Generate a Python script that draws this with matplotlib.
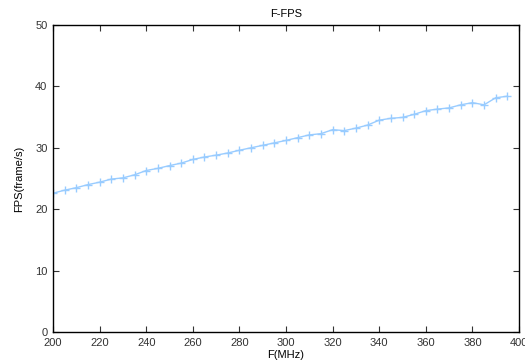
import matplotlib
matplotlib.use("Agg")
import matplotlib.pyplot as plt

freq = list(range(200, 400, 5))
fps = [22.6, 23.1, 23.5, 24.0, 24.4, 24.9, 25.1, 25.6, 26.3, 26.65,
       27.1, 27.5, 28.1, 28.5, 28.8, 29.15, 29.6, 30.0, 30.4, 30.8,
       31.2, 31.65, 32.1, 32.3, 32.95, 32.8, 33.2, 33.7, 34.5, 34.8,
       34.95, 35.45, 36.05, 36.3, 36.5, 37.0, 37.35, 37.0, 38.15, 38.4]
xticks = [200, 220, 240, 260, 280, 300, 320, 340, 360, 380, 400]
yticks = [0, 10, 20, 30, 40, 50]

plt.rcParams["font.family"] = ["Liberation Sans", "DejaVu Sans"]
plt.rcParams["font.size"] = 8

fig = plt.figure(figsize=(5.25, 3.64), dpi=100)
ax = fig.add_axes([0.101, 0.088, 0.8876, 0.8433])
ax.plot(freq, fps, color="#99ccff", lw=1, marker="+", ms=6, mew=1)
ax.set_xlim(200, 400)
ax.set_ylim(0, 50)
ax.set_xticks(xticks)
ax.set_yticks(yticks)
ax.tick_params(direction="in", length=4, width=0.8, top=True, right=True,
               labelsize=8, colors="#333333", pad=4)
for s in ax.spines.values():
    s.set_linewidth(1)
ax.set_title("F-FPS", fontsize=8, pad=6)
ax.set_xlabel("F(MHz)", fontsize=8, labelpad=2)
ax.set_ylabel("FPS(frame/s)", fontsize=8, labelpad=8)
fig.savefig("out.png", dpi=100)
